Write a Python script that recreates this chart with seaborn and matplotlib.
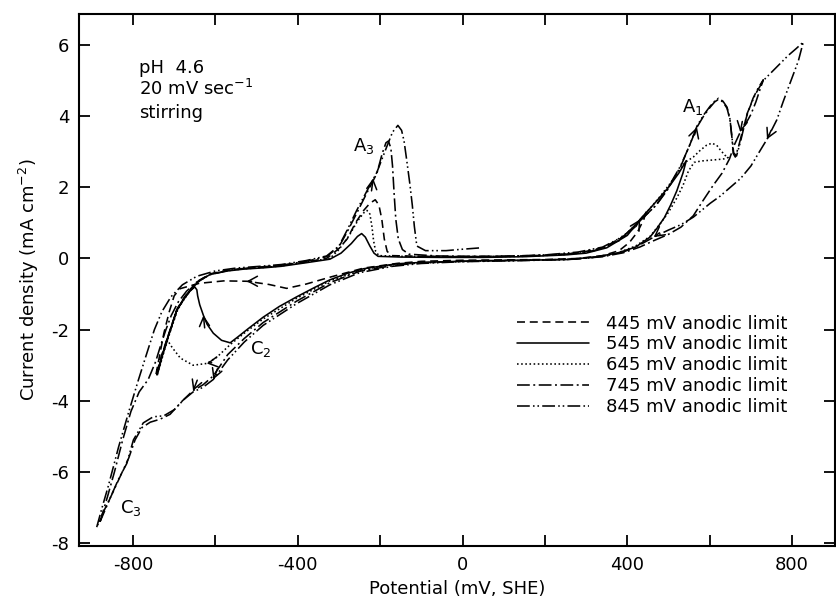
import pandas as pd
import matplotlib
matplotlib.use("Agg")
import matplotlib.pyplot as plt
import seaborn as sns
from matplotlib.lines import Line2D
from matplotlib.ticker import MultipleLocator

labels = ["445 mV anodic limit", "545 mV anodic limit", "645 mV anodic limit",
          "745 mV anodic limit", "845 mV anodic limit"]

# potential (mV) / current density (mA cm-2), one loop per anodic limit
c445_x = [-742, -730, -717, -704, -692, -676, -660, -640, -612, -570, -530, -480, -440, -380, -330,
          -300, -280, -260, -240, -225, -212, -203, -196, -190, -183, -172, -100, 0, 100, 200, 280,
          340, 390, 420, 445,
          440, 425, 405, 380, 340, 280, 200, 100, 0, -100, -160, -240, -320, -380, -427, -470, -524,
          -580, -640, -686, -700, -712, -725, -735, -744]
c445_y = [-3.2, -2.7, -2.25, -1.8, -1.4, -1.1, -0.85, -0.62, -0.43, -0.33, -0.28, -0.24, -0.2, -0.1, 0.0,
          0.28, 0.55, 1.0, 1.35, 1.55, 1.65, 1.5, 1.1, 0.55, 0.2, 0.08, 0.06, 0.05, 0.06, 0.09, 0.15,
          0.3, 0.6, 0.9, 1.3,
          1.1, 0.75, 0.45, 0.22, 0.08, 0.0, -0.03, -0.04, -0.05, -0.08, -0.14, -0.27, -0.52, -0.72, -0.84, -0.73, -0.64,
          -0.63, -0.7, -0.85, -1.05, -1.5, -2.1, -2.7, -3.25]

c545_x = [-742, -730, -718, -705, -694, -678, -662, -640, -613, -570, -532, -480, -440, -380, -322,
          -295, -270, -255, -245, -236, -225, -215, -205, -150, -50, 50, 150, 250, 300, 350, 400,
          431, 470, 500, 525, 543,
          535, 520, 505, 490, 472, 455, 420, 375, 320, 254, 150, 50, -40, -100, -160, -241, -280,
          -322, -360, -403, -445, -484, -520, -545, -564, -585, -605, -620, -629, -638, -643, -645,
          -650, -662, -678, -694, -705, -718, -730, -742]
c545_y = [-3.25, -2.75, -2.3, -1.85, -1.45, -1.15, -0.9, -0.64, -0.45, -0.35, -0.3, -0.26, -0.22, -0.12, -0.02,
          0.15, 0.42, 0.62, 0.7, 0.6, 0.35, 0.15, 0.06, 0.04, 0.03, 0.03, 0.05, 0.1, 0.15, 0.3, 0.65,
          1.1, 1.6, 2.0, 2.4, 2.75,
          2.4, 1.9, 1.5, 1.15, 0.85, 0.6, 0.32, 0.15, 0.04, -0.03, -0.05, -0.06, -0.09, -0.11, -0.15, -0.29, -0.42,
          -0.6, -0.82, -1.08, -1.35, -1.65, -1.97, -2.2, -2.37, -2.3, -2.1, -1.85, -1.6, -1.3, -1.05, -0.88,
          -0.8, -0.92, -1.17, -1.47, -1.87, -2.32, -2.77, -3.27]

c645_x = [-741, -729, -716, -703, -691, -675, -659, -638, -610, -568, -530, -480, -440, -380, -322,
          -300, -275, -255, -240, -232, -225, -220, -216, -211, -203, -150, -50, 50, 150, 250, 300,
          350, 400, 440, 480, 510, 540, 560, 577, 592, 605, 617, 627, 637, 645,
          635, 620, 600, 580, 562, 548, 535, 520, 500, 478, 455, 420, 375, 320, 250, 150, 50, -40,
          -160, -241, -322, -403, -484, -530, -564, -597, -621, -654, -685, -705, -716, -728, -741]
c645_y = [-3.28, -2.75, -2.28, -1.83, -1.43, -1.13, -0.88, -0.62, -0.43, -0.34, -0.29, -0.25, -0.21, -0.1, 0.0,
          0.25, 0.65, 1.05, 1.28, 1.35, 1.25, 0.9, 0.5, 0.2, 0.08, 0.06, 0.05, 0.05, 0.06, 0.11, 0.17,
          0.33, 0.72, 1.2, 1.75, 2.2, 2.7, 2.85, 3.04, 3.18, 3.24, 3.18, 3.03, 2.9, 2.84,
          2.8, 2.78, 2.76, 2.74, 2.7, 2.45, 2.05, 1.7, 1.3, 0.95, 0.62, 0.35, 0.15, 0.03, -0.03, -0.05, -0.07, -0.1,
          -0.16, -0.31, -0.63, -1.12, -1.7, -2.1, -2.42, -2.78, -2.95, -3.0, -2.8, -2.5, -2.3, -2.75, -3.28]

c745_x = [-880, -862, -845, -825, -805, -785, -763, -745, -733, -720, -707, -690, -670, -645, -615,
          -570, -530, -480, -440, -380, -330, -300, -280, -257, -232, -208, -195, -186, -180, -174,
          -170, -166, -162, -156, -146, -130, -60, 50, 150, 250, 320, 380, 430, 470, 497, 530, 550,
          569, 585, 601, 612, 621, 632, 642, 649, 654, 657, 662, 670, 680, 691, 705, 718, 730,
          722, 712, 700, 688, 674, 660, 648, 630, 608, 585, 560, 530, 500, 464, 430, 390, 340, 270,
          150, 0, -100, -170, -250, -322, -403, -484, -530, -570, -605, -630, -655, -680, -710, -735,
          -758, -778, -795, -810, -830, -856, -880]
c745_y = [-7.4, -6.7, -6.0, -5.1, -4.3, -3.75, -3.4, -2.9, -2.45, -2.0, -1.6, -1.22, -0.92, -0.66, -0.46,
          -0.34, -0.28, -0.23, -0.19, -0.08, 0.05, 0.33, 0.75, 1.27, 1.85, 2.39, 2.95, 3.25, 3.3, 3.1,
          2.6, 1.8, 1.1, 0.55, 0.25, 0.12, 0.07, 0.06, 0.07, 0.12, 0.22, 0.5, 1.05, 1.5, 1.92, 2.6, 3.15,
          3.69, 4.0, 4.25, 4.4, 4.47, 4.4, 4.22, 3.9, 3.38, 2.95, 2.85, 3.15, 3.6, 4.05, 4.5, 4.8, 5.02,
          4.75, 4.4, 4.05, 3.8, 3.55, 3.2, 2.8, 2.4, 2.05, 1.65, 1.2, 0.88, 0.68, 0.5, 0.32, 0.16, 0.05, -0.02,
          -0.05, -0.08, -0.12, -0.2, -0.36, -0.68, -1.2, -1.8, -2.25, -2.7, -3.3, -3.55, -3.72, -4.0, -4.38, -4.52,
          -4.6, -4.75, -5.1, -5.6, -6.1, -6.75, -7.4]

# 845 mV: short tail after A3, then the main loop
c845_tail_x = [-888, -875, -860, -835, -810, -787, -766, -748, -730, -708, -680, -645, -600, -550,
               -480, -440, -380, -330, -300, -280, -257, -232, -208, -184, -170, -157, -148, -142,
               -136, -128, -122, -117, -111, -90, -40, 0, 45]
c845_tail_y = [-7.55, -7.0, -6.4, -5.3, -4.3, -3.42, -2.65, -2.0, -1.5, -1.08, -0.74, -0.5, -0.35, -0.27,
               -0.21, -0.17, -0.06, 0.07, 0.35, 0.8, 1.35, 1.9, 2.42, 3.14, 3.55, 3.74, 3.6, 3.3,
               2.8, 2.1, 1.5, 0.9, 0.35, 0.22, 0.22, 0.26, 0.3]
c845_x = [-100, 0, 100, 200, 280, 340, 390, 430, 470, 497, 530, 550, 569, 585, 601, 612, 621, 632,
          642, 649, 654, 658, 665, 675, 691, 710, 730, 760, 790, 810, 827,
          815, 795, 778, 763, 739, 718, 700, 675, 650, 625, 601, 580, 560, 530, 500, 464, 430, 390,
          340, 270, 150, 0, -100, -170, -250, -322, -403, -484, -530, -570, -605, -630, -654, -675,
          -700, -725, -751, -775, -799, -815, -835, -856, -873, -888]
c845_y = [0.06, 0.05, 0.06, 0.1, 0.18, 0.32, 0.62, 1.05, 1.5, 1.95, 2.62, 3.15, 3.72, 4.03, 4.28, 4.42, 4.5, 4.42,
          4.25, 3.92, 3.4, 2.97, 2.88, 3.3, 4.08, 4.6, 5.0, 5.35, 5.7, 5.9, 6.08,
          5.55, 4.93, 4.4, 3.9, 3.35, 2.95, 2.6, 2.25, 2.0, 1.75, 1.55, 1.35, 1.16, 0.95, 0.8, 0.6, 0.38, 0.18,
          0.06, -0.02, -0.06, -0.09, -0.14, -0.22, -0.4, -0.74, -1.27, -1.88, -2.35, -2.85, -3.4, -3.62, -3.75, -3.95,
          -4.25, -4.42, -4.45, -4.62, -5.1, -5.76, -6.2, -6.75, -7.15, -7.55]

# scan-direction arrowheads: tip position and direction
arrow_x = [-524, -629, -621, -654, -605, -217, 569, 674, 739, 464, 431]
arrow_y = [-0.64, -1.6, -2.95, -3.72, -3.4, 2.25, 3.69, 3.55, 3.35, 0.6, 1.1]
arrow_dx = [-12, -3, -12, -10, -10, 4, 6, -5, -10, -14, 10]
arrow_dy = [0.0, 0.35, -0.02, -0.3, -0.3, 0.35, 0.22, -0.3, -0.25, -0.12, 0.2]

peak_names = ["A$_3$", "A$_1$", "C$_2$", "C$_3$"]
peak_x = [-266, 533, -516, -831]
peak_y = [3.15, 4.26, -2.55, -7.0]

segments = [(labels[0], c445_x, c445_y), (labels[1], c545_x, c545_y),
            (labels[2], c645_x, c645_y), (labels[3], c745_x, c745_y),
            (labels[4], c845_tail_x, c845_tail_y), (labels[4], c845_x, c845_y)]

rows = []
for k, (lab, xs, ys) in enumerate(segments):
    for i, (xv, yv) in enumerate(zip(xs, ys)):
        rows.append({"curve": lab, "seg": k, "i": i, "x": xv, "y": yv})
df = pd.DataFrame(rows)

dash_map = {labels[0]: (5, 3), labels[1]: "", labels[2]: (1, 1.6),
            labels[3]: (8, 2.2, 1.2, 2.2), labels[4]: (8, 2, 1, 1.8, 1, 2)}

sns.set_theme(style="white")
plt.rcParams["font.family"] = ["DejaVu Sans"]
plt.rcParams["axes.unicode_minus"] = False
plt.rcParams["mathtext.default"] = "regular"
plt.rcParams["text.color"] = "black"
plt.rcParams["axes.labelcolor"] = "black"

fig = plt.figure(figsize=(8.36, 6.03), dpi=100)
ax = fig.add_axes([0.0945, 0.0945, 0.9043, 0.8823])

sns.lineplot(data=df, x="x", y="y", style="curve", style_order=labels, units="seg",
             estimator=None, sort=False, dashes=dash_map, color="black",
             linewidth=1.15, legend=False, ax=ax)

for xv, yv, dx, dy in zip(arrow_x, arrow_y, arrow_dx, arrow_dy):
    ax.annotate("", xy=(xv, yv), xytext=(xv - dx, yv - dy),
                arrowprops=dict(arrowstyle="->,head_length=0.55,head_width=0.3",
                                color="black", lw=1.1, shrinkA=0, shrinkB=0))

for name, xv, yv in zip(peak_names, peak_x, peak_y):
    ax.text(xv, yv, name, fontsize=13, ha="left", va="center", color="black")

ax.text(-785, 5.35, "pH  4.6", fontsize=13, va="center", color="black")
ax.text(-785, 4.75, "20 mV sec$^{-1}$", fontsize=13, va="center", color="black")
ax.text(-785, 4.1, "stirring", fontsize=13, va="center", color="black")

ax.set_xlim(-931, 904)
ax.set_ylim(-8.08, 6.87)
ax.xaxis.set_major_locator(MultipleLocator(400))
ax.xaxis.set_minor_locator(MultipleLocator(200))
ax.yaxis.set_major_locator(MultipleLocator(2))
ax.tick_params(which="both", direction="in", length=8, width=1.3, color="black",
               top=True, right=True, bottom=True, left=True, labelsize=13,
               labelcolor="black", pad=7)

for sp in ax.spines.values():
    sp.set_color("black")
    sp.set_linewidth(1.5)

ax.set_xlabel("Potential (mV, SHE)", fontsize=13, color="black")
ax.set_ylabel("Current density (mA cm$^{-2}$)", fontsize=13, color="black")
ax.xaxis.set_label_coords(0.5, -0.064)
ax.yaxis.set_label_coords(-0.05, 0.5)

handles = []
for lab in labels:
    d = dash_map[lab]
    if d == "":
        handles.append(Line2D([], [], color="black", lw=1.15, linestyle="-"))
    else:
        handles.append(Line2D([], [], color="black", lw=1.15, dashes=d))
leg = ax.legend(handles, labels, loc="upper left", bbox_to_anchor=(0.579, 0.435), frameon=False,
                fontsize=13, handlelength=4.0, handletextpad=0.95, labelspacing=0.16,
                borderpad=0, borderaxespad=0)
for t in leg.get_texts():
    t.set_color("black")

fig.savefig("out.png", dpi=100)
